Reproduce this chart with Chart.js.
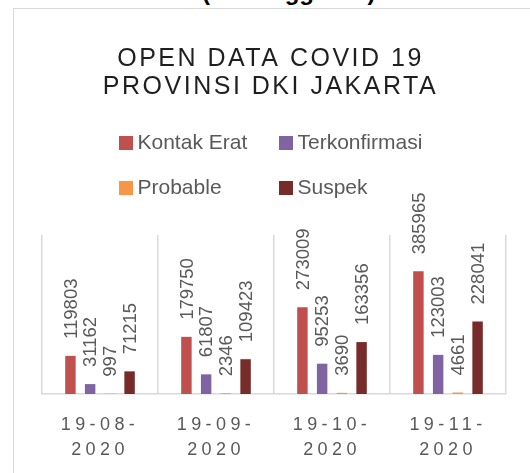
<!DOCTYPE html>
<html>
<head>
<meta charset="utf-8">
<script src="https://cdn.jsdelivr.net/npm/chart.js@4"></script>
<style>
  html, body { margin: 0; padding: 0; background: #fff; }
  #wadah { position: relative; width: 530px; height: 473px; overflow: hidden; }
  #atas {
    position: absolute; left: 202px; top: -20px;
    font: bold 24px "Liberation Sans", sans-serif; line-height: 24px;
    color: #000; white-space: nowrap;
  }
  #kartu {
    position: absolute; left: 13px; top: 8px; right: -10px; bottom: -10px;
    border-left: 1.5px solid #d9d9d9; border-top: 1.5px solid #d9d9d9;
  }
  #grafik { position: absolute; left: 0; top: 0; }
</style>
</head>
<body>
<div id="wadah">
  <div id="atas">(Pertanggal 19)</div>
  <div id="kartu"></div>
  <canvas id="grafik" width="530" height="473"></canvas>
</div>
<script>
// data
const judulBaris = ['OPEN DATA COVID 19', 'PROVINSI DKI JAKARTA'];
const tanggal = [['19-08-', '2020'], ['19-09-', '2020'], ['19-10-', '2020'], ['19-11-', '2020']];
const namaSeri = ['Kontak Erat', 'Terkonfirmasi', 'Probable', 'Suspek'];
const kontakErat = [119803, 179750, 273009, 385965];
const terkonfirmasi = [31162, 61807, 95253, 123003];
const probable = [997, 2346, 3690, 4661];
const suspek = [71215, 109423, 163356, 228041];

const warna = ['#C0504D', '#8064A2', '#F79646', '#772C2A'];
const nilaiSeri = [kontakErat, terkonfirmasi, probable, suspek];

/* ====== judul, legenda, label nilai ====== */
const pluginHias = {
  id: 'hias',
  beforeDraw(chart) {
    // spasi huruf untuk label sumbu x
    chart.ctx.letterSpacing = '4.4px';
  },
  afterDatasetsDraw(chart) {
    const ctx = chart.ctx;
    ctx.save();
    ctx.letterSpacing = '0px';
    ctx.font = '18.5px "Liberation Sans"';
    ctx.fillStyle = '#595959';
    ctx.textAlign = 'left';
    ctx.textBaseline = 'middle';
    chart.data.datasets.forEach((ds, i) => {
      chart.getDatasetMeta(i).data.forEach((bar, j) => {
        ctx.save();
        ctx.translate(bar.x + 1, bar.y - 17);
        ctx.rotate(-Math.PI / 2);
        ctx.fillText(String(ds.data[j]), 0, 0);
        ctx.restore();
      });
    });
    ctx.restore();
  },
  afterDraw(chart) {
    const ctx = chart.ctx;
    ctx.save();
    // judul
    ctx.letterSpacing = '2.5px';
    ctx.font = '25px "Liberation Sans"';
    ctx.fillStyle = '#1f1f1f';
    ctx.textAlign = 'center';
    ctx.textBaseline = 'alphabetic';
    ctx.fillText(judulBaris[0], 270.5, 66);
    ctx.fillText(judulBaris[1], 270.5, 94);

    // legenda 2 kolom
    ctx.letterSpacing = '0px';
    ctx.font = '21px "Liberation Sans"';
    ctx.textAlign = 'left';
    ctx.textBaseline = 'middle';
    const kolomX = [119, 279];
    const barisY = [143, 188];
    chart.data.datasets.forEach((ds, i) => {
      const x = kolomX[i % 2];
      const y = barisY[Math.floor(i / 2)];
      ctx.fillStyle = ds.backgroundColor;
      ctx.fillRect(x, y - 7, 14, 14);
      ctx.fillStyle = '#595959';
      ctx.fillText(ds.label, x + 18.5, y + 0.5);
    });
    ctx.restore();
  }
};

new Chart(document.getElementById('grafik'), {
  type: 'bar',
  data: {
    labels: tanggal,
    datasets: namaSeri.map((nama, i) => ({
      label: nama,
      data: nilaiSeri[i],
      backgroundColor: warna[i],
      borderWidth: 0,
      categoryPercentage: 0.68,
      barPercentage: 0.53
    }))
  },
  options: {
    responsive: false,
    animation: false,
    layout: { padding: { top: 235, left: 42, right: 24, bottom: 0 } },
    plugins: {
      legend: { display: false },
      title: { display: false },
      tooltip: { enabled: false }
    },
    scales: {
      x: {
        grid: { display: true, offset: true, color: '#d9d9d9', lineWidth: 1.5, drawTicks: false },
        border: { display: true, color: '#d9d9d9', width: 1.5 },
        ticks: {
          color: '#595959',
          font: { family: 'Liberation Sans', size: 18, lineHeight: 1.41 },
          padding: 18,
          maxRotation: 0,
          autoSkip: false
        },
        afterFit(scale) { scale.height = 79; }
      },
      y: { display: false, min: 0, max: 500000 }
    }
  },
  plugins: [pluginHias]
});
</script>
</body>
</html>
